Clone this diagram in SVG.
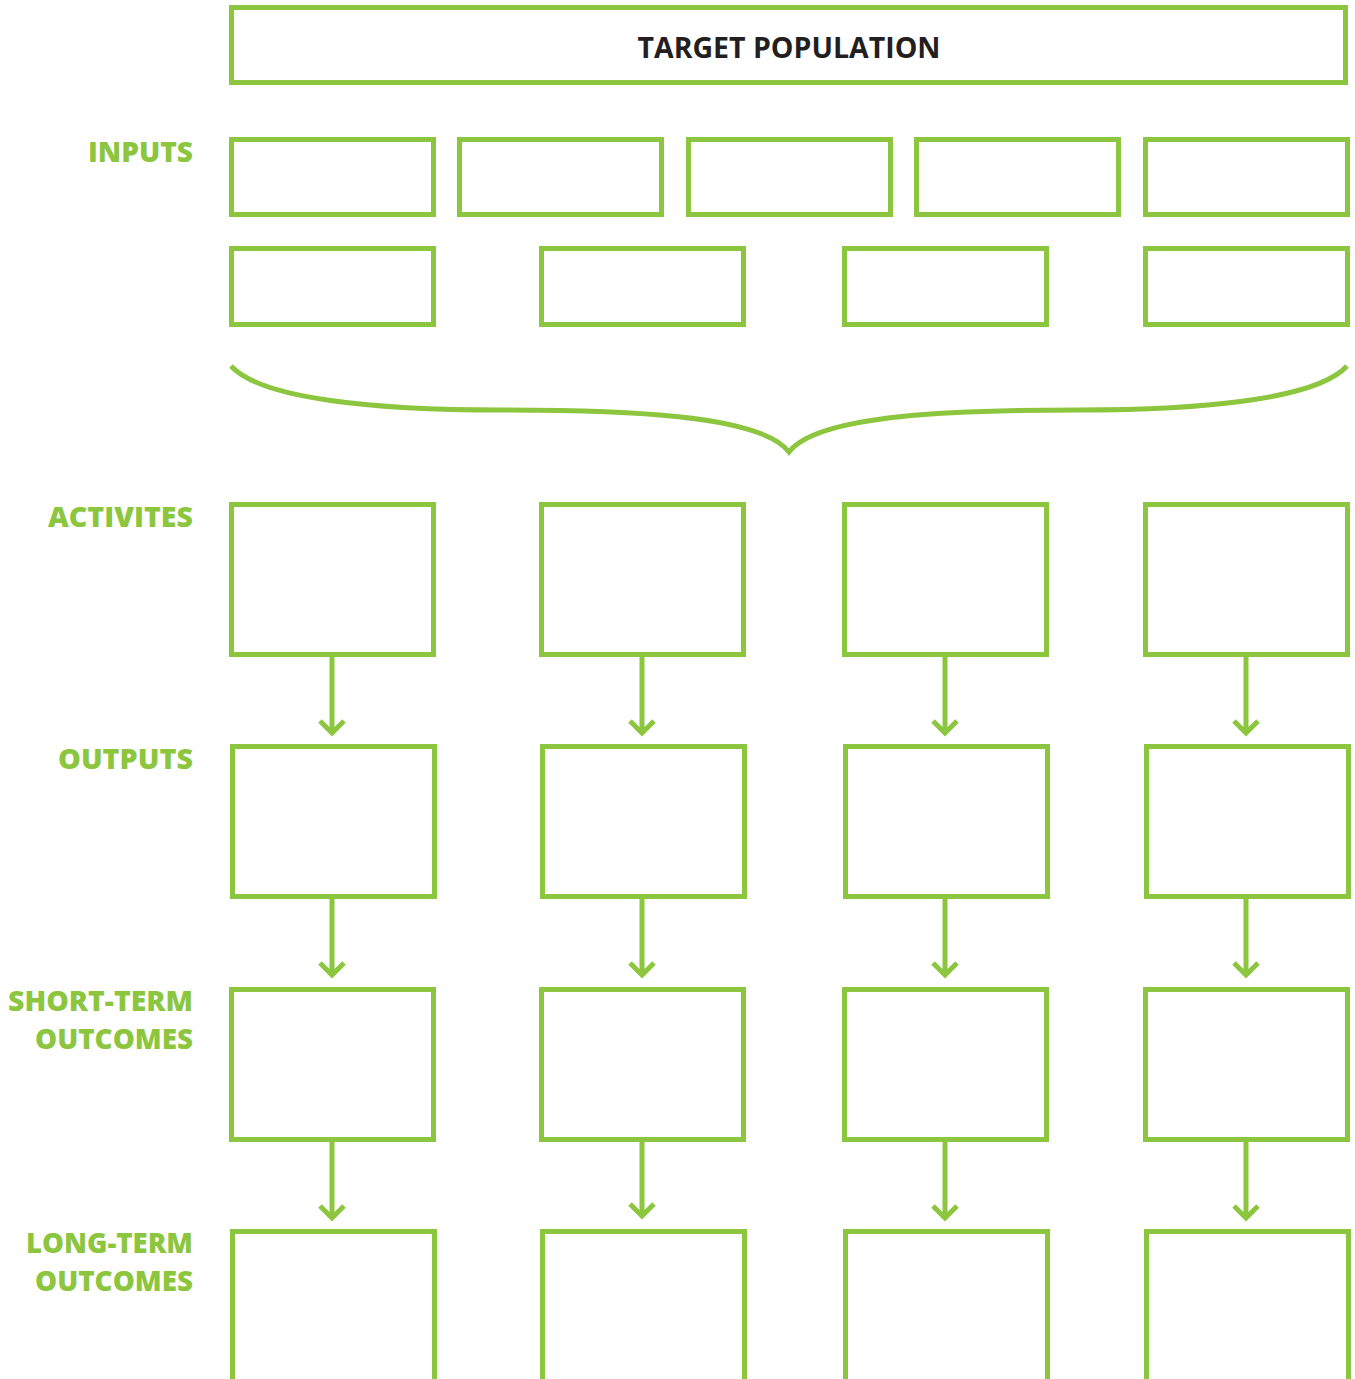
<svg xmlns="http://www.w3.org/2000/svg" width="1355" height="1379" viewBox="0 0 1355 1379">
<style>
.box{fill:none;stroke:#8cc63f;stroke-width:5}
.lbl{font-family:"Open Sans","Liberation Sans",sans-serif;font-weight:800;font-size:29px;fill:#8cc63f;text-anchor:end}
.title{font-family:"Open Sans","Liberation Sans",sans-serif;font-weight:700;font-size:28px;fill:#231f20;text-anchor:middle}
.conn{fill:none;stroke:#8cc63f;stroke-width:5}
</style>
<rect width="1355" height="1379" fill="#fff"/>
<g id="target"><rect class="box" x="231.5" y="7.5" width="1114" height="75"/><text class="title" x="789" y="58" textLength="303" lengthAdjust="spacingAndGlyphs">TARGET POPULATION</text></g>
<g id="labels">
<text class="lbl" x="193" y="162" textLength="105" lengthAdjust="spacingAndGlyphs">INPUTS</text>
<text class="lbl" x="193" y="527" textLength="145" lengthAdjust="spacingAndGlyphs">ACTIVITES</text>
<text class="lbl" x="193" y="769" textLength="135" lengthAdjust="spacingAndGlyphs">OUTPUTS</text>
<text class="lbl" x="193" y="1011" textLength="185" lengthAdjust="spacingAndGlyphs">SHORT-TERM</text>
<text class="lbl" x="193" y="1049" textLength="158" lengthAdjust="spacingAndGlyphs">OUTCOMES</text>
<text class="lbl" x="193" y="1253" textLength="167" lengthAdjust="spacingAndGlyphs">LONG-TERM</text>
<text class="lbl" x="193" y="1291" textLength="158" lengthAdjust="spacingAndGlyphs">OUTCOMES</text>
</g>
<g id="inputs1">
<rect id="in1" class="box" x="231.5" y="139.5" width="202" height="75"/>
<rect id="in2" class="box" x="459.5" y="139.5" width="202" height="75"/>
<rect id="in3" class="box" x="688.5" y="139.5" width="202" height="75"/>
<rect id="in4" class="box" x="916.5" y="139.5" width="202" height="75"/>
<rect id="in5" class="box" x="1145.5" y="139.5" width="202" height="75"/>
</g>
<g id="inputs2">
<rect id="in6" class="box" x="231.5" y="248.5" width="202" height="76"/>
<rect id="in7" class="box" x="541.5" y="248.5" width="202" height="76"/>
<rect id="in8" class="box" x="844.5" y="248.5" width="202" height="76"/>
<rect id="in9" class="box" x="1145.5" y="248.5" width="202" height="76"/>
</g>
<g id="activities">
<rect id="a1" class="box" x="231.5" y="504.5" width="202" height="150"/>
<rect id="a2" class="box" x="541.5" y="504.5" width="202" height="150"/>
<rect id="a3" class="box" x="844.5" y="504.5" width="202" height="150"/>
<rect id="a4" class="box" x="1145.5" y="504.5" width="202" height="150"/>
</g>
<g id="outputs">
<rect id="o1" class="box" x="232.5" y="746.5" width="202" height="150"/>
<rect id="o2" class="box" x="542.5" y="746.5" width="202" height="150"/>
<rect id="o3" class="box" x="845.5" y="746.5" width="202" height="150"/>
<rect id="o4" class="box" x="1146.5" y="746.5" width="202" height="150"/>
</g>
<g id="short">
<rect id="s1" class="box" x="231.5" y="989.5" width="202" height="150"/>
<rect id="s2" class="box" x="541.5" y="989.5" width="202" height="150"/>
<rect id="s3" class="box" x="844.5" y="989.5" width="202" height="150"/>
<rect id="s4" class="box" x="1145.5" y="989.5" width="202" height="150"/>
</g>
<g id="long">
<rect id="l1" class="box" x="232.5" y="1231.5" width="202" height="170"/>
<rect id="l2" class="box" x="542.5" y="1231.5" width="202" height="170"/>
<rect id="l3" class="box" x="845.5" y="1231.5" width="202" height="170"/>
<rect id="l4" class="box" x="1146.5" y="1231.5" width="202" height="170"/>
</g>
<g id="connectors">
<path class="conn" d="M231,366 C262,400 380,410 500,410 C620,410 760,414 789,452 C818,414 958,410 1078,410 C1198,410 1316,400 1347,366"/>
<g id="arrows">
<path class="conn" d="M332,656 V734 M320,721 L332,733 L344,721"/>
<path class="conn" d="M642,656 V734 M630,721 L642,733 L654,721"/>
<path class="conn" d="M945,656 V734 M933,721 L945,733 L957,721"/>
<path class="conn" d="M1246,656 V734 M1234,721 L1246,733 L1258,721"/>
<path class="conn" d="M332,898 V976 M320,963 L332,975 L344,963"/>
<path class="conn" d="M642,898 V976 M630,963 L642,975 L654,963"/>
<path class="conn" d="M945,898 V976 M933,963 L945,975 L957,963"/>
<path class="conn" d="M1246,898 V976 M1234,963 L1246,975 L1258,963"/>
<path class="conn" d="M332,1141 V1219 M320,1206 L332,1218 L344,1206"/>
<path class="conn" d="M642,1141 V1217 M630,1204 L642,1216 L654,1204"/>
<path class="conn" d="M945,1141 V1219 M933,1206 L945,1218 L957,1206"/>
<path class="conn" d="M1246,1141 V1219 M1234,1206 L1246,1218 L1258,1206"/>
</g>
</g>
</svg>
